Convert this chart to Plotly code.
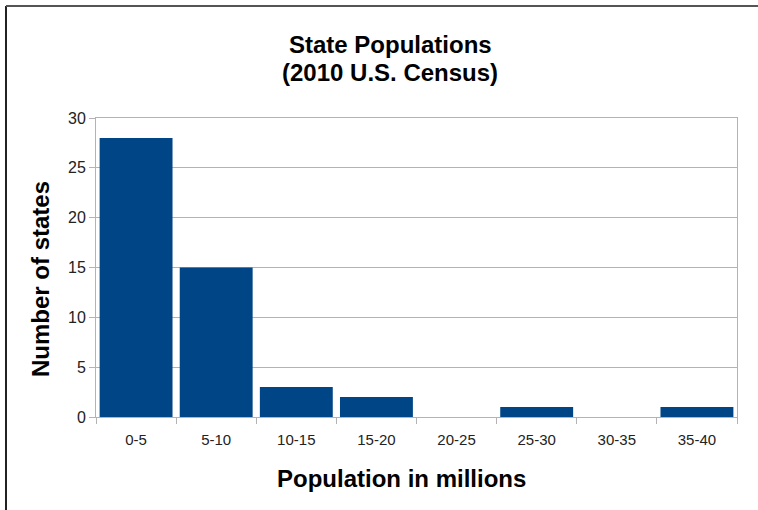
import plotly.graph_objects as go

categories = ["0-5", "5-10", "10-15", "15-20", "20-25", "25-30", "30-35", "35-40"]
num_states = [28, 15, 3, 2, 0, 1, 0, 1]
y_ticks = [0, 5, 10, 15, 20, 25, 30]

W, H = 758, 510
L, R, T, B = 96, 21, 118, 93
pw, ph = W - L - R, H - T - B

def px_x(x):
    return (x - L) / pw

def px_y(y):
    return (H - B - y) / ph

fig = go.Figure(go.Bar(x=categories, y=num_states, marker=dict(color="#004586", line=dict(width=0))))

font = "Liberation Sans, Arial, sans-serif"
grey = "#b3b3b3"

fig.update_layout(
    width=W, height=H,
    margin=dict(l=L, r=R, t=T, b=B),
    paper_bgcolor="white", plot_bgcolor="white",
    bargap=0.09,
    showlegend=False,
    font=dict(family=font, size=15, color="#222"),
    xaxis=dict(type="category", tickson="boundaries", ticks="outside", ticklen=6,
               tickcolor=grey, showline=True, linecolor=grey, linewidth=1,
               showgrid=False, mirror=True, ticklabelstandoff=9,
               tickfont=dict(size=15, color="#222")),
    yaxis=dict(range=[0, 30], tickvals=y_ticks, ticks="outside", ticklen=6,
               tickcolor=grey, showline=True, linecolor=grey, linewidth=1, mirror=True,
               showgrid=True, gridcolor=grey, gridwidth=1, zeroline=False,
               tickfont=dict(size=16, color="#222")),
    annotations=[
        dict(text="<b>State Populations</b>", x=px_x(390), y=px_y(45), xref="paper", yref="paper",
             showarrow=False, font=dict(size=24, color="#000"), xanchor="center", yanchor="middle"),
        dict(text="<b>(2010 U.S. Census)</b>", x=px_x(390), y=px_y(72), xref="paper", yref="paper",
             showarrow=False, font=dict(size=24, color="#000"), xanchor="center", yanchor="middle"),
        dict(text="<b>Number of states</b>", x=px_x(40), y=px_y(279), xref="paper", yref="paper",
             showarrow=False, textangle=-90, font=dict(size=24, color="#000"), xanchor="center", yanchor="middle"),
        dict(text="<b>Population in millions</b>", x=px_x(401), y=px_y(478), xref="paper", yref="paper",
             showarrow=False, font=dict(size=24, color="#000"), xanchor="center", yanchor="middle"),
    ],
    shapes=[
        dict(type="line", xref="paper", yref="paper", x0=px_x(6), x1=px_x(6), y0=px_y(6), y1=px_y(520),
             line=dict(color="#222", width=2), layer="below"),
        dict(type="line", xref="paper", yref="paper", x0=px_x(6), x1=px_x(770), y0=px_y(6), y1=px_y(6),
             line=dict(color="#555", width=2), layer="below"),
    ],
)

fig.write_html("out.html")
